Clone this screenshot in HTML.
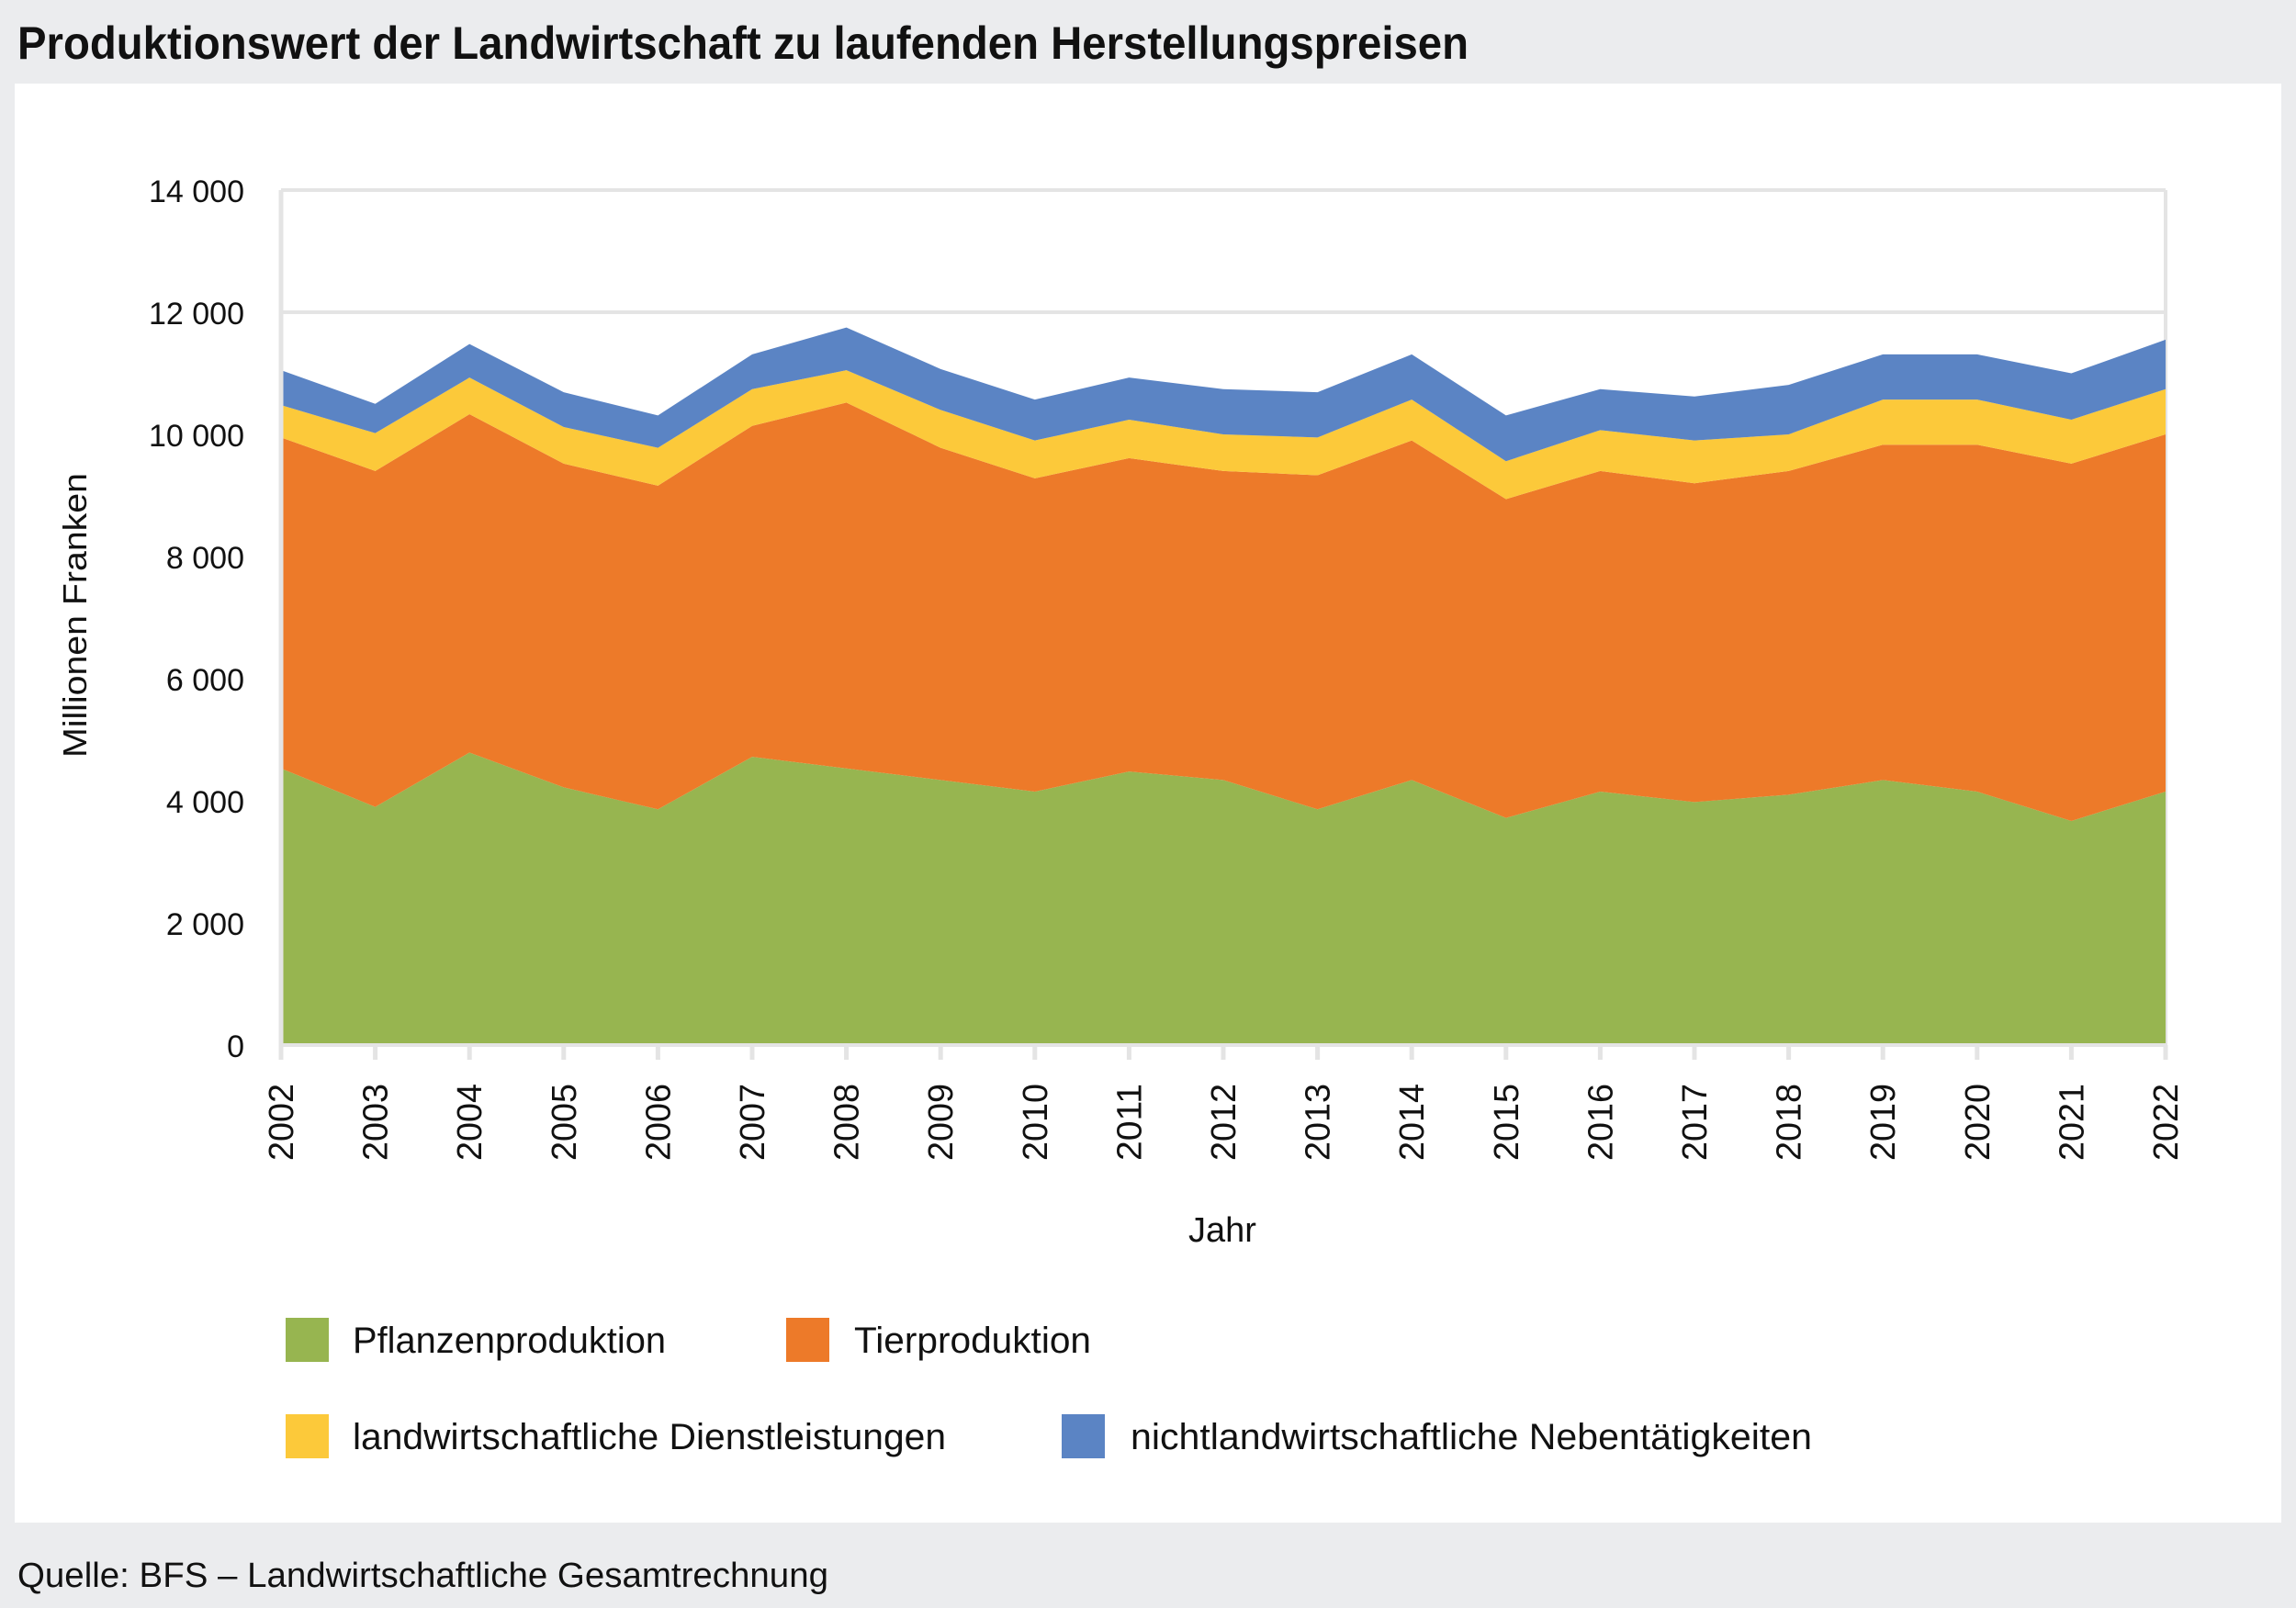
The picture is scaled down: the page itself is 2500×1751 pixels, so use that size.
<!DOCTYPE html>
<html><head><meta charset="utf-8"><style>
html,body{margin:0;padding:0;background:#fff}
svg{display:block}
text{font-family:"Liberation Sans",sans-serif;fill:#111}
</style></head><body>
<svg id="chart" width="2500" height="1751" viewBox="0 0 2500 1751">
<rect x="0" y="0" width="2500" height="1751" fill="#ebecee"/>
<rect x="16" y="91" width="2468" height="1567" fill="#ffffff"/>
<text x="19" y="64" font-size="50" font-weight="bold" textLength="1580" lengthAdjust="spacingAndGlyphs">Produktionswert der Landwirtschaft zu laufenden Herstellungspreisen</text>
<g id="grid"></g>
<g id="areas"></g>
<g id="axes"></g>
<text transform="translate(94,670) rotate(-90)" font-size="36" text-anchor="middle" textLength="310" lengthAdjust="spacingAndGlyphs">Millionen Franken</text>
<text x="1331" y="1352" font-size="38" text-anchor="middle">Jahr</text>
<g id="legend"></g>
<text x="19" y="1728" font-size="38" textLength="883" lengthAdjust="spacingAndGlyphs">Quelle: BFS – Landwirtschaftliche Gesamtrechnung</text>
</svg>
<script>
const years = [2002,2003,2004,2005,2006,2007,2008,2009,2010,2011,2012,2013,2014,2015,2016,2017,2018,2019,2020,2021,2022];
const pflanzen = [4530,3900,4790,4220,3860,4720,4530,4340,4150,4480,4340,3860,4340,3720,4150,3980,4100,4340,4150,3670,4150];
const tier = [5420,5500,5540,5300,5300,5420,5990,5440,5130,5130,5060,5470,5560,5220,5250,5220,5300,5490,5680,5850,5850];
const dienst = [530,620,600,600,620,600,530,620,620,630,600,620,670,620,670,700,600,740,740,720,740];
const neben = [570,480,550,570,530,570,700,670,670,690,740,740,740,750,670,720,810,740,740,760,810];
const yTicks = [0,2000,4000,6000,8000,10000,12000,14000];
const yTickLabels = ["0","2 000","4 000","6 000","8 000","10 000","12 000","14 000"];
const seriesNames = ["Pflanzenproduktion","Tierproduktion","landwirtschaftliche Dienstleistungen","nichtlandwirtschaftliche Nebentätigkeiten"];

const NS="http://www.w3.org/2000/svg";
const L=306,R=2358,T=207,B=1138,YMAX=14000;
const xs=i=>L+(R-L)*i/(years.length-1);
const ys=v=>B-(B-T)*v/YMAX;
function mk(tag,attrs,parent){const e=document.createElementNS(NS,tag);for(const k in attrs)e.setAttribute(k,attrs[k]);parent.appendChild(e);return e;}
const grid=document.getElementById('grid'),areas=document.getElementById('areas'),axes=document.getElementById('axes'),legend=document.getElementById('legend');

yTicks.forEach((v,i)=>{
  if(v>0){const g=mk('line',{x1:L,x2:R,y1:ys(v),y2:ys(v),stroke:'#e4e4e4','stroke-width':4},grid);
  
  }
  const t=mk('text',{x:266,y:ys(v)+13,'font-size':34,'text-anchor':'end'},axes);
  t.textContent=yTickLabels[i];
  
  
});
const rv=mk('line',{x1:R,x2:R,y1:T,y2:B,stroke:'#e4e4e4','stroke-width':4},grid);



const series=[pflanzen,tier,dienst,neben];
const colors=['#97b550','#ed7a29','#fcc93a','#5b84c4'];
const names=['area-pflanzenproduktion','area-tierproduktion','area-dienstleistungen','area-nebentaetigkeiten'];
let base=years.map(()=>0);
series.forEach((s,k)=>{
  const top=base.map((b,i)=>b+s[i]);
  let d='';
  top.forEach((v,i)=>{d+=(i?'L':'M')+xs(i)+','+ys(v);});
  for(let i=years.length-1;i>=0;i--)d+='L'+xs(i)+','+ys(base[i]);
  d+='Z';
  const p=mk('path',{d:d,fill:colors[k]},areas);
  
  
  base=top;
});

const la=mk('line',{x1:L,x2:L,y1:T,y2:B+16,stroke:'#e4e4e4','stroke-width':5},axes);


const ba=mk('line',{x1:L,x2:R,y1:B,y2:B,stroke:'#e4e4e4','stroke-width':4},axes);


years.forEach((y,i)=>{
  const tk=mk('line',{x1:xs(i),x2:xs(i),y1:B,y2:B+16,stroke:'#e4e4e4','stroke-width':5},axes);
  
  
  const t=mk('text',{transform:'translate('+(xs(i)+13)+',1180) rotate(-90)','font-size':38,'text-anchor':'end',textLength:84,lengthAdjust:'spacingAndGlyphs'},axes);
  t.textContent=y;
  
  
});

const legPos=[[311,1435,384,341],[856,1435,930,258],[311,1540,384,646],[1156,1540,1231,742]];
seriesNames.forEach((n,k)=>{
  const [sx,sy,tx,tw]=legPos[k];
  const g=mk('g',{},legend);
  
  
  const r=mk('rect',{x:sx,y:sy,width:47,height:48,fill:colors[k]},g);
  
  
  const t=mk('text',{x:tx,y:sy+38,'font-size':40,textLength:tw,lengthAdjust:'spacingAndGlyphs'},g);
  t.textContent=n;
  
  
});
</script>
</body></html>
